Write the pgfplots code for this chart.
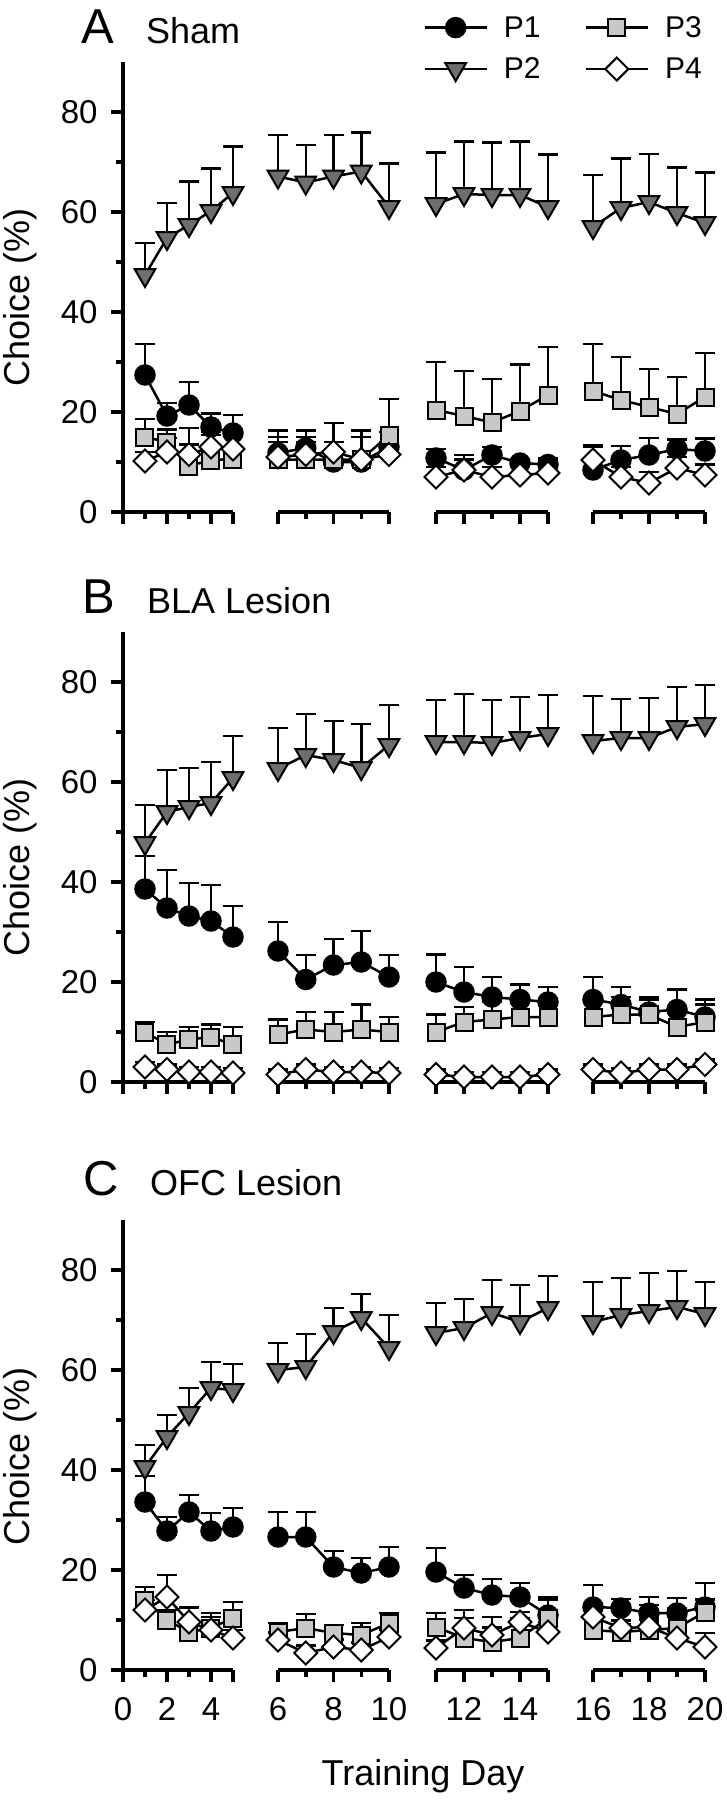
\documentclass[border=0pt]{standalone}
\usepackage{pgfplots}
\pgfplotsset{compat=1.18}
\usepackage{pgfplotstable}
\usepackage{fontspec}
\setmainfont{Liberation Sans}

\definecolor{darkg}{HTML}{6E6E6E}
\definecolor{lightg}{HTML}{C8C8C8}
\newcommand\lbl{\fontsize{36}{40}\selectfont}
\newcommand\tkl{\fontsize{33}{38}\selectfont}
\newcommand\lgd{\fontsize{30}{34}\selectfont}
\newcommand\pnl{\fontsize{49}{54}\selectfont}

% marks: down triangle and square diamond
\pgfdeclareplotmark{tridown*}{%
  \pgfpathmoveto{\pgfqpoint{0pt}{-\pgfplotmarksize}}%
  \pgfpathlineto{\pgfqpoint{0.866\pgfplotmarksize}{0.5\pgfplotmarksize}}%
  \pgfpathlineto{\pgfqpoint{-0.866\pgfplotmarksize}{0.5\pgfplotmarksize}}%
  \pgfpathclose\pgfusepathqfillstroke}
\pgfdeclareplotmark{dmd*}{%
  \pgfpathmoveto{\pgfqpoint{0pt}{\pgfplotmarksize}}%
  \pgfpathlineto{\pgfqpoint{\pgfplotmarksize}{0pt}}%
  \pgfpathlineto{\pgfqpoint{0pt}{-\pgfplotmarksize}}%
  \pgfpathlineto{\pgfqpoint{-\pgfplotmarksize}{0pt}}%
  \pgfpathclose\pgfusepathqfillstroke}

% Sham
\pgfplotstableread{
d  p1   e1  p2   e2   p3   e3  p4   e4
1  27.4 6.2 47.4 6.4  15.0 3.6 10.2 1.8
2  19.2 2.6 54.8 7.0  14.0 2.5 12.0 2.8
3  21.4 4.6 57.4 8.7  9.2  7.6 11.5 2.0
4  17.0 2.7 60.2 8.5  10.4 5.0 13.0 3.0
5  15.8 3.6 63.8 9.3  10.6 4.8 12.6 4.0
6  11.8 4.5 67.1 8.3  10.5 4.5 11.0 3.0
7  12.8 3.5 65.9 7.5  10.5 4.5 11.5 2.5
8  10.0 4.0 67.1 8.3  10.5 3.5 12.0 5.8
9  10.0 6.3 68.1 7.8  10.5 4.5 10.5 4.5
10 13.0 3.0 61.0 8.7  15.4 7.2 11.5 2.5
11 10.8 1.8 61.6 10.3 20.4 9.6 7.0  2.0
12 8.4  3.0 63.6 10.5 19.2 9.0 8.4  2.1
13 11.4 1.6 63.4 10.5 17.9 8.7 7.0  2.0
14 9.8  0.8 63.4 10.7 20.2 9.3 7.4  2.1
15 9.5  1.3 61.0 10.5 23.4 9.6 7.8  2.7
16 8.4  4.6 57.0 10.4 24.2 9.4 10.4 3.0
17 10.4 2.8 60.8 9.9  22.4 8.6 7.0  2.0
18 11.4 3.4 62.0 9.6  21.0 7.6 5.8  2.2
19 12.6 1.9 59.8 9.1  19.6 7.4 8.8  2.2
20 12.2 2.5 57.8 10.1 23.0 8.8 7.4  2.1
}\dataA

% BLA lesion
\pgfplotstableread{
d  p1   e1  p2   e2  p3   e3  p4  e4
1  38.6 6.6 47.8 7.6 10.0 2.0 3.0 1.0
2  34.8 7.6 54.0 8.4 7.5  2.5 2.5 1.0
3  33.2 6.6 55.0 7.8 8.5  2.5 2.0 1.0
4  32.2 7.2 55.8 8.2 9.0  2.5 2.0 1.0
5  29.0 6.2 60.8 8.4 7.5  3.5 1.8 1.0
6  26.2 5.8 62.6 8.2 9.5  3.0 1.5 1.0
7  20.5 4.9 65.4 8.2 10.5 3.5 2.5 1.0
8  23.4 5.2 64.4 7.8 10.0 4.0 2.0 1.0
9  24.0 6.2 62.8 8.8 10.5 5.0 2.0 1.0
10 21.0 4.4 67.4 8.0 10.0 3.0 1.8 1.0
11 20.0 5.5 68.0 8.4 10.0 3.5 1.5 1.0
12 18.0 5.0 68.0 9.6 12.0 3.0 1.0 1.0
13 17.0 4.0 67.8 8.6 12.5 3.5 1.0 1.0
14 16.5 3.0 68.8 8.2 13.0 4.0 1.0 1.0
15 16.0 3.0 69.6 7.8 13.0 3.5 1.5 1.0
16 16.5 4.5 68.2 9.0 13.0 4.0 2.5 1.0
17 15.5 3.5 68.8 7.8 13.5 3.5 1.8 1.0
18 14.0 3.0 68.8 8.0 13.5 3.0 2.5 1.0
19 14.5 4.0 71.0 8.0 11.0 3.0 2.5 1.0
20 13.0 3.5 71.6 7.8 12.0 3.5 3.5 1.0
}\dataB

% OFC lesion
\pgfplotstableread{
d  p1   e1  p2   e2  p3   e3  p4   e4
1  33.6 5.2 40.6 4.4 14.0 2.6 12.0 2.0
2  27.8 2.8 46.6 4.4 10.0 2.0 14.6 4.4
3  31.6 3.4 51.4 5.0 7.6  4.8 9.6  3.0
4  27.8 3.6 56.4 5.2 8.4  3.0 8.0  2.6
5  28.6 3.8 56.0 5.2 10.4 3.2 6.4  1.6
6  26.6 5.0 60.0 5.4 7.6  1.8 6.0  1.5
7  26.6 5.0 60.6 6.6 8.4  2.8 3.4  1.5
8  20.6 3.2 67.6 4.8 7.4  1.6 4.6  1.5
9  19.4 3.0 70.4 4.8 7.0  2.4 4.0  1.5
10 20.6 4.0 64.4 6.6 9.4  2.0 6.6  1.5
11 19.6 4.8 67.4 6.0 8.6  2.8 4.4  1.5
12 16.4 2.6 68.4 5.8 6.4  5.6 8.4  2.0
13 15.0 3.2 71.4 6.6 5.6  5.0 7.0  1.5
14 14.6 2.8 69.6 7.4 6.4  4.0 9.6  2.0
15 11.0 3.5 72.4 6.4 10.4 3.6 7.6  2.0
16 12.6 4.4 69.6 8.0 8.0  5.0 10.6 2.0
17 12.4 1.8 71.0 7.4 7.6  5.0 8.4  1.5
18 11.4 3.2 71.8 7.6 8.0  5.0 8.6  1.5
19 11.4 3.0 72.6 7.2 8.4  4.0 6.4  1.5
20 12.6 4.8 71.2 6.4 11.6 2.5 4.6  2.8
}\dataC

\pgfplotsset{
  ebar/.style={error bars/y dir=plus, error bars/y explicit,
    error bars/error bar style={line width=2.5pt, black},
    error bars/error mark=none},
  capst/.style={only marks, mark=-, mark size=10pt,
    mark options={line width=2.5pt, black}},
  sP1/.style={black, line width=2.5pt, mark=*, mark size=10pt,
    mark options={fill=black, line width=1.5pt}},
  sP2/.style={black, line width=2.5pt, mark=tridown*, mark size=12pt,
    mark options={fill=darkg, line width=2pt}},
  sP3/.style={black, line width=2.5pt, mark=square*, mark size=8.5pt,
    mark options={fill=lightg, line width=2pt}},
  sP4/.style={black, line width=2.5pt, mark=dmd*, mark size=11.5pt,
    mark options={fill=white, line width=2pt}},
  seg/.style={scale only axis, height=450pt, ymin=0, ymax=90,
    anchor=south west, clip=false,
    axis x line*=bottom,
    axis line style={line width=3.5pt},
    tick style={line width=3.5pt, black},
    tick align=outside, major tick length=12pt, minor tick length=7pt,
    tick label style={font=\tkl, black},
    xticklabel style={yshift=-12pt},
    yticklabel style={xshift=-10pt},
    /pgf/number format/assume math mode=true},
  seg1/.style={seg, width=110pt, xmin=0, xmax=5, restrict x to domain=0:5.5,
    xtick={0,2,4,5}, xticklabels={0,2,4,{}}, minor xtick={1,3},
    axis y line*=left, ytick={0,20,...,80}, minor ytick={10,30,...,70}},
  seg2/.style={seg, axis y line=none, ytick=\empty,
    width=111pt, xmin=6, xmax=10, restrict x to domain=5.5:10.5,
    xtick={6,8,10}, minor xtick={7,9}},
  seg3/.style={seg, axis y line=none, ytick=\empty,
    width=112pt, xmin=11, xmax=15, restrict x to domain=10.5:15.5,
    xtick={11,12,14,15}, xticklabels={{},12,14,{}}, minor xtick={13}},
  seg4/.style={seg, axis y line=none, ytick=\empty,
    width=112pt, xmin=16, xmax=20, restrict x to domain=15.5:20.5,
    xtick={16,18,20}, minor xtick={17,19}},
}

\newcommand\fourseries[1]{%
  % caps of the error bars first, so that the markers cover them
  \addplot[capst] table[x=d, y expr=\thisrow{p1}+\thisrow{e1}] {#1};
  \addplot[capst] table[x=d, y expr=\thisrow{p2}+\thisrow{e2}] {#1};
  \addplot[capst] table[x=d, y expr=\thisrow{p3}+\thisrow{e3}] {#1};
  \addplot[capst] table[x=d, y expr=\thisrow{p4}+\thisrow{e4}] {#1};
  \addplot[sP1, ebar] table[x=d, y=p1, y error=e1] {#1};
  \addplot[sP2, ebar] table[x=d, y=p2, y error=e2] {#1};
  \addplot[sP3, ebar] table[x=d, y=p3, y error=e3] {#1};
  \addplot[sP4, ebar] table[x=d, y=p4, y error=e4] {#1};
}

% #1 = y of the zero line, #2 = table, #3 = extra axis options
\newcommand\panel[3]{%
  \begin{axis}[seg1, at={(123pt,#1pt)}, #3] \fourseries{#2} \end{axis}
  \begin{axis}[seg2, at={(278pt,#1pt)}, #3] \fourseries{#2} \end{axis}
  \begin{axis}[seg3, at={(436pt,#1pt)}, #3] \fourseries{#2} \end{axis}
  \begin{axis}[seg4, at={(593pt,#1pt)}, #3] \fourseries{#2} \end{axis}
}

\begin{document}
\begin{tikzpicture}
\useasboundingbox (0,0) rectangle (727pt,-1800pt);

\panel{-512}{\dataA}{xticklabels={}}
\panel{-1082}{\dataB}{xticklabels={}}
\panel{-1670}{\dataC}{}

% legend
\begin{axis}[hide axis, scale only axis, width=727pt, height=1800pt,
  xmin=0, xmax=727, ymin=0, ymax=1800, anchor=south west, at={(0pt,-1800pt)},
  legend columns=2, transpose legend,
  legend image code/.code={\draw[mark repeat=2, mark phase=2, #1]
    plot coordinates {(0pt,0pt) (31pt,0pt) (62pt,0pt)};},
  legend style={draw=none, fill=none, font=\lgd, anchor=north west,
    at={(axis description cs:0.578,0.996)}, row sep=5pt,
    nodes={inner sep=7pt},
    /tikz/every odd column/.append style={column sep=9pt},
    /tikz/every even column/.append style={column sep=37pt}},
  legend cell align=left]
\addlegendimage{sP1}\addlegendentry{P1}
\addlegendimage{sP2}\addlegendentry{P2}
\addlegendimage{sP3}\addlegendentry{P3}
\addlegendimage{sP4}\addlegendentry{P4}
\end{axis}

\begin{scope}[every node/.style={inner sep=0pt}]
\node[anchor=base west, font=\pnl] at (81pt,-43pt) {A};
\node[anchor=base west, font=\lbl] at (146pt,-43pt) {Sham};
\node[anchor=base west, font=\pnl] at (82pt,-613pt) {B};
\node[anchor=base west, font=\lbl] at (147pt,-613pt) {BLA Lesion};
\node[anchor=base west, font=\pnl] at (83pt,-1195pt) {C};
\node[anchor=base west, font=\lbl] at (150pt,-1195pt) {OFC Lesion};
\node[rotate=90, font=\lbl] at (20pt,-297pt) {Choice (\%)};
\node[rotate=90, font=\lbl] at (20pt,-867pt) {Choice (\%)};
\node[rotate=90, font=\lbl] at (20pt,-1456pt) {Choice (\%)};
\node[font=\lbl] at (423pt,-1776pt) {Training Day};
\end{scope}
\end{tikzpicture}
\end{document}
